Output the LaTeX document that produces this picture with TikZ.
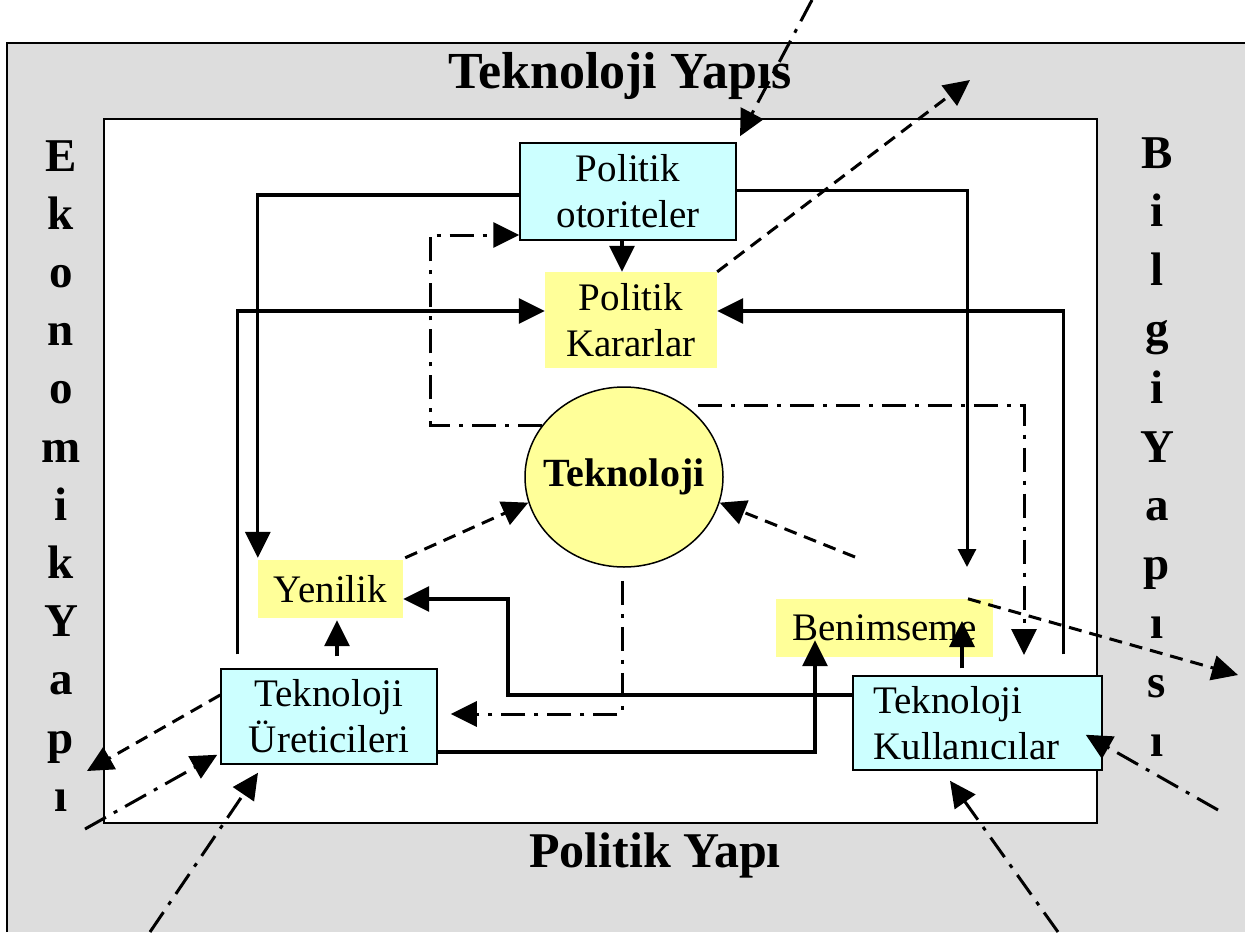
\documentclass[tikz,border=0pt]{standalone}
\usepackage{fontspec}
\setmainfont{Liberation Serif}
\usetikzlibrary{arrows.meta,shapes.geometric,calc}
\definecolor{bggray}{HTML}{DDDDDD}
\definecolor{boxcyan}{HTML}{CCFFFF}
\definecolor{boxyellow}{HTML}{FFFF99}
\tikzset{
 cbox/.style={draw=black, line width=1.5pt, fill=boxcyan, align=center, inner sep=0pt, font=\fontsize{39}{46}\selectfont},
 ybox/.style={fill=boxyellow, align=center, inner sep=0pt, font=\fontsize{39}{46}\selectfont},
 tipA/.style={-{Triangle[length=26pt,width=25pt]}},
 sol/.style={line width=3.2pt, tipA},
 smallsol/.style={line width=3pt, -{Triangle[length=18pt,width=18pt]}},
 dsh/.style={line width=3pt, dash pattern=on 13pt off 8pt, tipA},
 dd/.style={line width=3pt, dash pattern=on 24pt off 9pt on 4pt off 9pt, tipA},
 side/.style={font=\fontsize{47}{47}\selectfont\bfseries, anchor=base, inner sep=0pt},
 ttl/.style={font=\fontsize{52}{52}\selectfont\bfseries, anchor=base, inner sep=0pt},
}
\begin{document}
\begin{tikzpicture}[x=1pt,y=-1pt]
\useasboundingbox (0,0) rectangle (1245,932);
% frames
\fill[bggray] (7,43) rectangle (1245,932);
\draw[line width=1.5pt] (7,932) -- (7,43) -- (1245,43);
\draw[line width=1.5pt, fill=white] (104,119) rectangle (1097,823);
% titles
\node[ttl] (ttop) at (620,88) {Teknoloji Yapıs};
\node[ttl, font=\fontsize{50}{50}\selectfont\bfseries] (tbot) at (655,867) {Politik Yapı};
\foreach \l [count=\i from 0] in {E,k,o,n,o,m,i,k,Y,a,p,ı}
  \node[side] (el\i) at (61,171+58.2*\i) {\l};
\foreach \l [count=\i from 0] in {B,i,l,g,i,Y,a,p,ı,s,ı}
  \node[side] (br\i) at (1157,168+58.8*\i) {\l};
% nodes
\node[cbox, minimum width=216pt, minimum height=97pt] (po) at (628,191.5) {Politik\\otoriteler};
\node[ybox, minimum width=172pt, minimum height=96pt] (pk) at (631,320) {Politik\\Kararlar};
\node[ellipse, draw, line width=1.5pt, fill=boxyellow, minimum width=198pt, minimum height=180pt, inner xsep=-14pt, inner ysep=0pt, font=\fontsize{40}{40}\selectfont\bfseries] (tek) at (624,477) {Teknoloji};
\node[ybox, minimum width=145pt, minimum height=58pt] (yen) at (330.5,589) {Yenilik};
\node[ybox, minimum width=217pt, minimum height=58pt] (ben) at (884.5,628) {Benimseme};
\node[cbox, minimum width=216pt, minimum height=95pt] (ur) at (329,716.5) {Teknoloji\\Üreticileri};
\node[cbox, minimum width=249pt, minimum height=94pt, text width=208pt, align=left] (ku) at (977.5,723) {Teknoloji\\Kullanıcılar};
% coordinates for free ends
\coordinate (c2) at (967,567);
\coordinate (c7) at (508,599);
\coordinate (c10) at (430,235);
\coordinate (c11) at (1024,655);
\coordinate (t1) at (812,0);
\coordinate (b1) at (150,932);
\coordinate (l1) at (85,829);
\coordinate (b2) at (1058,932);
\coordinate (r1) at (1218,810);
\coordinate (d1) at (970,80);
\coordinate (d2) at (87,771);
\coordinate (d3) at (855,557);
\coordinate (d4) at (1238,675);
% solid connectors
\draw[sol] ([yshift=-3.5pt]po.west) -| ([yshift=2pt]yen.north west);
\draw[smallsol] ([yshift=1.5pt]po.east) -| (c2);
\draw[sol] ([xshift=-6pt]po.south) -- ([xshift=-6pt]po.south |- pk.north);
\draw[sol] ([xshift=17pt,yshift=14pt]ur.north west) |- ([yshift=9pt]pk.west);
\draw[sol] ([xshift=-39pt,yshift=21pt]ku.north east) |- ([yshift=9pt]pk.east);
\draw[sol] ([xshift=8pt,yshift=12pt]ur.north) -- ([xshift=6.5pt,yshift=-2pt]yen.south);
\draw[sol] ([yshift=28pt]ku.west) -| (c7) -- ([yshift=-10pt]yen.east);
\draw[sol] ([yshift=-35.5pt]ur.east) -| ([xshift=-69.5pt,yshift=17pt]ben.south);
\draw[sol] ([xshift=-15.5pt,yshift=7pt]ku.north) -- ([xshift=-15.5pt,yshift=7pt]ku.north |- ben.center);
% dash-dot connectors
\draw[dd] (tek.148) -| (c10) -- ([yshift=-43.5pt]po.west);
\draw[dd] ([xshift=12pt]tek.49) -| (c11);
\draw[dd] ([xshift=-2pt,yshift=-13pt]tek.south) |- ([xshift=13pt,yshift=2.5pt]ur.east);
\draw[dd] (t1) -- ([xshift=112pt,yshift=6pt]po.north);
\draw[dd] (b1) -- ([xshift=-71pt,yshift=-8pt]ur.south);
\draw[dd] (l1) -- ([xshift=-3pt,yshift=10pt]ur.south west);
\draw[dd] (b2) -- ([xshift=-27.5pt,yshift=-10pt]ku.south);
\draw[dd] (r1) -- ([xshift=-17pt,yshift=36pt]ku.south east);
% dashed connectors
\draw[dsh] (pk.north east) -- (d1);
\draw[dsh] ([yshift=21.5pt]ur.west) -- (d2);
\draw[dsh] ([xshift=2pt,yshift=2pt]yen.north east) -- (tek.195);
\draw[dsh] (d3) -- (tek.345);
\draw[dsh] ([xshift=83.5pt]ben.north) -- (d4);
\end{tikzpicture}
\end{document}
